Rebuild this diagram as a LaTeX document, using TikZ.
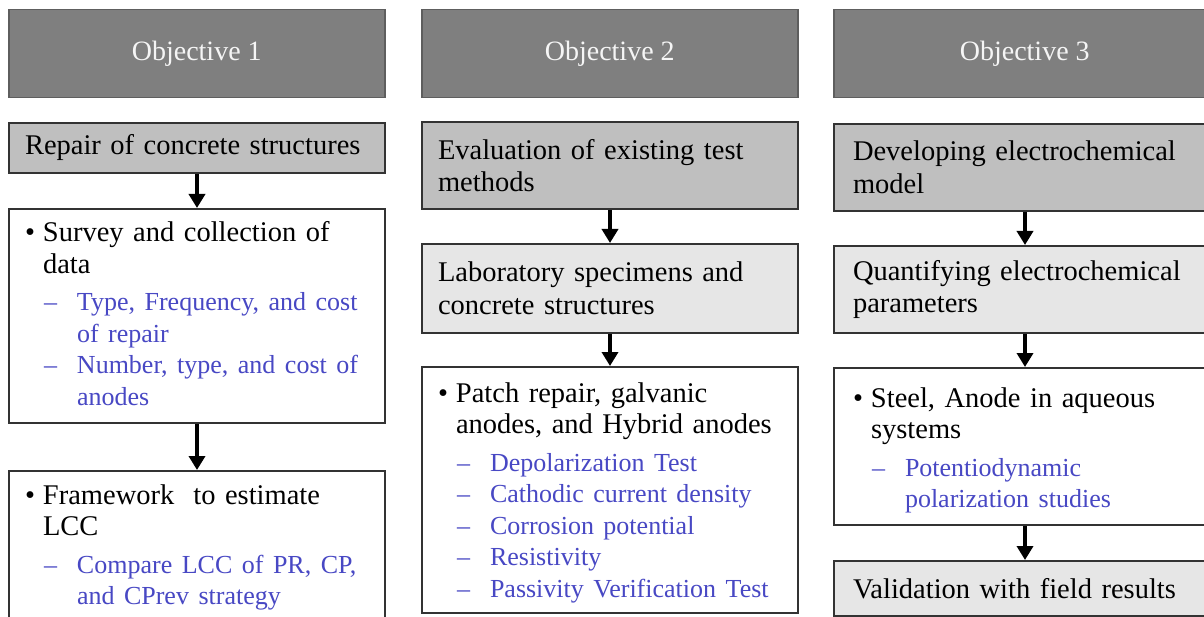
\documentclass[tikz,border=0pt]{standalone}
\usepackage{fontspec}
\setmainfont{Liberation Serif}
\usepackage{tikz}
\usetikzlibrary{arrows.meta}

\definecolor{objgray}{HTML}{7F7F7F}
\definecolor{objedge}{HTML}{5E5E5E}
\definecolor{boxedge}{HTML}{333333}
\definecolor{hdgray}{HTML}{BFBFBF}
\definecolor{ltfill}{HTML}{E6E6E6}
\definecolor{subblue}{RGB}{72,72,196}

\newcommand{\bulitm}[1]{\par\noindent\hangindent=18pt\hangafter=1\makebox[18pt][l]{\textbullet}#1\par\vspace{6pt}}
\newcommand{\subitm}[1]{\par{\noindent\color{subblue}\fontsize{26}{31.5}\selectfont\hangindent=52pt\hangafter=1\hspace*{19pt}\makebox[33pt][l]{–}#1\par}}
% extra room under the last line, lifts the text in its box
\newcommand{\padend}[1]{\par\kern#1\hrule height0pt width0pt}

\begin{document}
\begin{tikzpicture}[x=1pt, y=1pt,
    objbox/.style={anchor=north west, fill=objgray, draw=objedge, line width=1.5pt,
        minimum width=376pt, minimum height=88pt, text=gray!8,
        font=\fontsize{28}{32}\selectfont},
    stepbox/.style={anchor=north west, draw=boxedge, line width=2pt, align=left,
        text width=344pt, inner xsep=16pt, font=\fontsize{28.5}{32.5}\selectfont},
    darkstep/.style={stepbox, fill=hdgray},
    lightstep/.style={stepbox, fill=ltfill},
    listbox/.style={stepbox, fill=white, text width=344pt, inner ysep=0pt,
        font=\fontsize{28.5}{31.5}\selectfont},
    flow/.style={-{Triangle[width=16pt,length=14pt]}, line width=4pt}]
    \useasboundingbox (0,0) rectangle (1204,-617);

    % Objective 1
    \node[objbox] (obj1) at (8,-9) {Objective 1};
    \node[darkstep, minimum height=50pt] (rep) at (8,-122) {Repair of concrete structures};
    \node[listbox, minimum height=214pt] (surv) at (8,-208)
        {\bulitm{Survey and collection of\newline data}%
         \subitm{Type, Frequency, and cost\newline of repair}%
         \subitm{Number, type, and cost of\newline anodes}\padend{16pt}};
    \node[listbox, minimum height=152pt] (lcc) at (8,-470)
        {\bulitm{Framework\ \ to estimate\newline LCC}%
         \subitm{Compare LCC of PR, CP,\newline and CPrev strategy}\padend{11pt}};

    \draw[flow] (rep) -- (surv);
    \draw[flow] (surv) -- (lcc);

    % Objective 2
    \node[objbox] (obj2) at (421,-9) {Objective 2};
    \node[darkstep, minimum height=87pt] (eval) at (421,-121) {Evaluation of existing test\\methods};
    \node[lightstep, minimum height=89pt] (lab) at (421,-243) {Laboratory specimens and\\concrete structures};
    \node[listbox, minimum height=246pt] (patch) at (421,-366)
        {\bulitm{Patch repair, galvanic\newline anodes, and Hybrid anodes}%
         \subitm{Depolarization Test}%
         \subitm{Cathodic current density}%
         \subitm{Corrosion potential}%
         \subitm{Resistivity}%
         \subitm{Passivity Verification Test}\padend{6pt}};

    \draw[flow] (eval) -- (lab);
    \draw[flow] (lab) -- (patch);

    % Objective 3
    \node[objbox, minimum width=382pt] (obj3) at (833,-9) {Objective 3};
    \node[darkstep, minimum width=382pt, minimum height=87pt] (dev) at (833,-123) {Developing electrochemical\\model};
    \node[lightstep, minimum width=382pt, minimum height=87pt] (quant) at (833,-245) {Quantifying electrochemical\\parameters};
    \node[listbox, minimum width=382pt, minimum height=157pt] (steel) at (833,-367)
        {\bulitm{Steel, Anode in aqueous\newline systems}%
         \subitm{Potentiodynamic\newline polarization studies}\padend{4pt}};
    \node[lightstep, minimum width=382pt, minimum height=55pt] (valid) at (833,-560) {Validation with field results};

    \draw[flow] (dev) -- (quant);
    \draw[flow] (quant) -- (steel);
    \draw[flow] (steel) -- (valid);
\end{tikzpicture}
\end{document}
